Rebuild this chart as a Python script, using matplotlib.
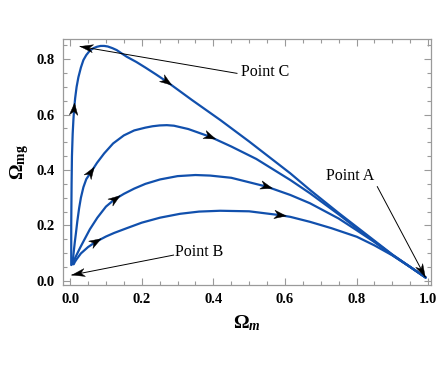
import numpy as np
import matplotlib
matplotlib.use("Agg")
import matplotlib.pyplot as plt
from matplotlib.patches import Polygon
from matplotlib.transforms import IdentityTransform
from matplotlib.ticker import MultipleLocator

plt.rcParams['font.family'] = ['Liberation Serif', 'DejaVu Serif']
plt.rcParams['mathtext.fontset'] = 'custom'
plt.rcParams['mathtext.rm'] = 'Liberation Serif:bold'
plt.rcParams['mathtext.it'] = 'Liberation Serif:bold:italic'
plt.rcParams['mathtext.bf'] = 'Liberation Serif:bold'

# ---- data ----
c1_x = [0.003, 0.003, 0.004, 0.005, 0.007, 0.009, 0.011, 0.014, 0.018, 0.023, 0.030, 0.037,
        0.045, 0.055, 0.065, 0.075, 0.085, 0.095, 0.105, 0.118, 0.130, 0.145, 0.158, 0.185,
        0.210, 0.240, 0.270, 0.340, 0.420, 0.500, 0.615, 0.670, 0.750, 0.800, 0.850, 0.900,
        0.950, 0.993]
c1_y = [0.057, 0.200, 0.350, 0.450, 0.530, 0.580, 0.620, 0.660, 0.700, 0.735, 0.770, 0.797,
        0.815, 0.831, 0.840, 0.845, 0.848, 0.848, 0.846, 0.840, 0.833, 0.820, 0.809, 0.790,
        0.770, 0.745, 0.719, 0.653, 0.580, 0.503, 0.388, 0.328, 0.245, 0.195, 0.145, 0.095,
        0.050, 0.012]

c2_x = [0.006, 0.008, 0.010, 0.013, 0.016, 0.020, 0.025, 0.030, 0.037, 0.045, 0.058, 0.075,
        0.095, 0.120, 0.150, 0.179, 0.210, 0.230, 0.250, 0.270, 0.290, 0.330, 0.391, 0.450,
        0.520, 0.615, 0.670, 0.750, 0.800, 0.850, 0.900, 0.950, 0.993]
c2_y = [0.060, 0.080, 0.105, 0.140, 0.171, 0.215, 0.262, 0.300, 0.338, 0.367, 0.392, 0.426,
        0.460, 0.496, 0.525, 0.543, 0.553, 0.558, 0.561, 0.562, 0.560, 0.548, 0.520, 0.485,
        0.440, 0.364, 0.316, 0.240, 0.190, 0.142, 0.094, 0.050, 0.012]

c3_x = [0.008, 0.010, 0.014, 0.020, 0.028, 0.039, 0.055, 0.076, 0.100, 0.123, 0.150, 0.179,
        0.210, 0.251, 0.300, 0.350, 0.391, 0.450, 0.549, 0.615, 0.670, 0.750, 0.800, 0.850,
        0.900, 0.950, 0.993]
c3_y = [0.060, 0.070, 0.083, 0.099, 0.120, 0.147, 0.186, 0.228, 0.268, 0.293, 0.314, 0.333,
        0.350, 0.366, 0.378, 0.382, 0.380, 0.372, 0.340, 0.310, 0.280, 0.225, 0.183, 0.140,
        0.093, 0.050, 0.012]

c4_x = [0.010, 0.013, 0.018, 0.030, 0.050, 0.072, 0.100, 0.123, 0.158, 0.200, 0.251, 0.307,
        0.360, 0.419, 0.500, 0.587, 0.615, 0.670, 0.730, 0.801, 0.850, 0.900, 0.950, 0.993]
c4_y = [0.060, 0.068, 0.078, 0.099, 0.122, 0.141, 0.160, 0.173, 0.190, 0.210, 0.228, 0.242,
        0.250, 0.253, 0.251, 0.237, 0.231, 0.213, 0.190, 0.159, 0.128, 0.092, 0.050, 0.012]

curves = [(c1_x, c1_y), (c2_x, c2_y), (c3_x, c3_y), (c4_x, c4_y)]

# arrow locations on the curves (curve index, x, y)
arrow_curve = [0, 0, 1, 1, 2, 2, 3, 3]
arrow_x = [0.011, 0.270, 0.058, 0.391, 0.126, 0.549, 0.072, 0.587]
arrow_y = [0.620, 0.719, 0.392, 0.520, 0.295, 0.340, 0.141, 0.237]

# point labels
point_labels = ["Point C", "Point A", "Point B"]
label_x = [0.478, 0.715, 0.293]
label_y = [0.754, 0.378, 0.105]
tail_x = [0.466, 0.858, 0.289]
tail_y = [0.749, 0.340, 0.093]
tip_x = [0.028, 0.992, 0.005]
tip_y = [0.846, 0.014, 0.021]

x_ticks = [0.0, 0.2, 0.4, 0.6, 0.8, 1.0]
y_ticks = [0.0, 0.2, 0.4, 0.6, 0.8]

# ---- figure ----
fig = plt.figure(figsize=(4.42, 3.78), dpi=100)
ax = fig.add_axes([63 / 442, 1 - 285 / 378, 368 / 442, 246 / 378])
ax.set_xlim(-0.02, 1.008)
ax.set_ylim(-0.015, 0.873)

blue = '#1150ad'
for cx, cy in curves:
    ax.plot(cx, cy, color=blue, lw=1.6, solid_capstyle='round', solid_joinstyle='round', zorder=3)

frame_col = '#9a9a9a'
for s in ax.spines.values():
    s.set_color(frame_col)
    s.set_linewidth(0.9)

ax.set_xticks(x_ticks)
ax.set_yticks(y_ticks)
ax.set_xticklabels([f"{v:.1f}" for v in x_ticks])
ax.set_yticklabels([f"{v:.1f}" for v in y_ticks])
ax.xaxis.set_minor_locator(MultipleLocator(0.05))
ax.yaxis.set_minor_locator(MultipleLocator(0.05))
ax.tick_params(which='both', direction='in', top=True, right=True, color=frame_col, width=0.8)
ax.tick_params(which='major', length=5, labelsize=10.5, pad=6)
ax.tick_params(which='minor', length=3)
for lab in ax.get_xticklabels() + ax.get_yticklabels():
    lab.set_fontweight('bold')

ax.set_xlabel(r'$\Omega_m$', fontsize=14, labelpad=5)
ax.set_ylabel(r'$\Omega_{\mathrm{mg}}$', fontsize=14, labelpad=4)

fig.canvas.draw()

def head(tip, d, length, width, notch=0.3):
    # tip and d in display pixels
    d = d / np.hypot(*d)
    n = np.array([-d[1], d[0]])
    base = tip - d * length
    pts = [tip, base + n * width / 2, tip - d * length * (1 - notch), base - n * width / 2]
    return Polygon(pts, closed=True, transform=IdentityTransform(), facecolor='black',
                   edgecolor='black', lw=0.3, zorder=5)

# direction arrows on curves
for ci, axx, ayy in zip(arrow_curve, arrow_x, arrow_y):
    cx, cy = curves[ci]
    pts = ax.transData.transform(np.column_stack([cx, cy]))
    p = ax.transData.transform((axx, ayy))
    i = int(np.argmin(np.hypot(*(pts - p).T)))
    i0, i1 = max(i - 1, 0), min(i + 1, len(pts) - 1)
    d = pts[i1] - pts[i0]
    d = d / np.hypot(*d)
    fig.add_artist(head(p + d * 6, d, 12, 8.5))

# labelled points
for t, lx, ly, tx, ty, px, py in zip(point_labels, label_x, label_y, tail_x, tail_y, tip_x, tip_y):
    ax.text(lx, ly, t, fontsize=11.5, ha='left', va='center', zorder=6)
    a = ax.transData.transform((tx, ty))
    b = ax.transData.transform((px, py))
    d = b - a
    d = d / np.hypot(*d)
    ax.plot([tx, px], [ty, py], color='black', lw=0.7, zorder=4)
    fig.add_artist(head(b, d, 13, 8))

fig.savefig('out.png', dpi=100)
